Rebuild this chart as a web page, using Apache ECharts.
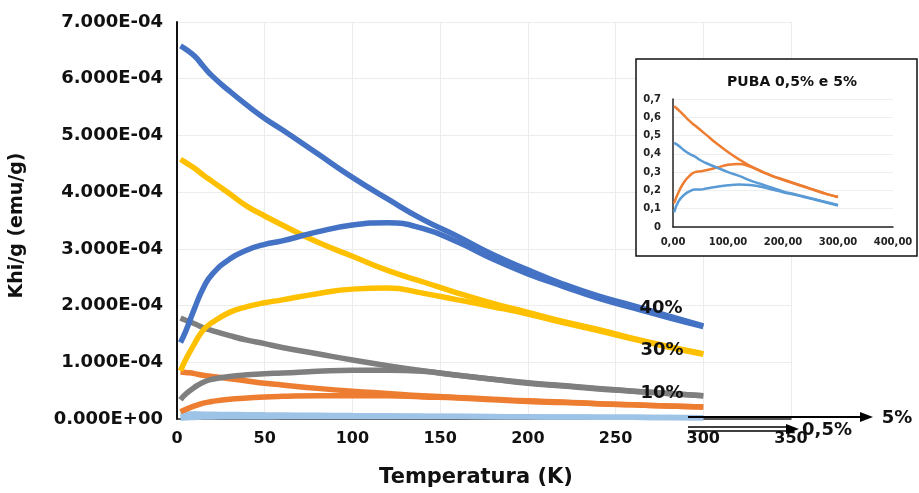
<!DOCTYPE html>
<html>
<head>
<meta charset="utf-8">
<script src="https://cdn.jsdelivr.net/npm/echarts@6/dist/echarts.min.js"></script>
<style>
html, body { margin: 0; padding: 0; background: #fff; }
#main { width: 919px; height: 493px; }
</style>
</head>
<body>
<div id="main"></div>
<script>
// temperatures (K)
var temps = [2, 5, 10, 15, 20, 30, 40, 50, 60, 80, 100, 120, 140, 160, 180, 200, 220, 240, 260, 280, 300];

// Khi/g in units of 1e-4 emu/g ; fc = field cooled (upper), zfc = zero field cooled (lower)
var fc40  = [6.58, 6.52, 6.40, 6.22, 6.05, 5.78, 5.53, 5.30, 5.10, 4.68, 4.26, 3.88, 3.52, 3.22, 2.90, 2.63, 2.38, 2.17, 2.00, 1.82, 1.64];
var zfc40 = [1.35, 1.55, 1.95, 2.31, 2.55, 2.82, 2.98, 3.08, 3.14, 3.30, 3.42, 3.46, 3.36, 3.12, 2.82, 2.56, 2.34, 2.13, 1.96, 1.79, 1.63];
var fc30  = [4.58, 4.52, 4.42, 4.30, 4.19, 3.97, 3.75, 3.58, 3.42, 3.12, 2.87, 2.62, 2.42, 2.22, 2.04, 1.88, 1.72, 1.58, 1.42, 1.28, 1.15];
var zfc30 = [0.85, 1.05, 1.33, 1.57, 1.70, 1.88, 1.98, 2.05, 2.10, 2.21, 2.29, 2.31, 2.22, 2.10, 1.98, 1.85, 1.70, 1.56, 1.41, 1.27, 1.14];
var fc10  = [1.78, 1.74, 1.68, 1.61, 1.56, 1.47, 1.39, 1.33, 1.26, 1.15, 1.04, 0.94, 0.85, 0.77, 0.70, 0.64, 0.59, 0.54, 0.49, 0.45, 0.41];
var zfc10 = [0.34, 0.44, 0.56, 0.65, 0.70, 0.75, 0.78, 0.80, 0.81, 0.84, 0.86, 0.86, 0.84, 0.77, 0.70, 0.63, 0.58, 0.53, 0.49, 0.45, 0.41];
var fc5   = [0.83, 0.82, 0.80, 0.77, 0.75, 0.71, 0.67, 0.63, 0.60, 0.54, 0.49, 0.45, 0.41, 0.38, 0.35, 0.32, 0.30, 0.27, 0.25, 0.23, 0.21];
var zfc5  = [0.13, 0.17, 0.23, 0.28, 0.31, 0.35, 0.37, 0.39, 0.40, 0.41, 0.41, 0.41, 0.39, 0.37, 0.34, 0.31, 0.29, 0.27, 0.25, 0.23, 0.21];
var fc05  = [0.092, 0.090, 0.088, 0.085, 0.083, 0.080, 0.077, 0.073, 0.070, 0.065, 0.060, 0.056, 0.051, 0.047, 0.043, 0.039, 0.036, 0.033, 0.030, 0.027, 0.024];
var zfc05 = [0.016, 0.022, 0.028, 0.034, 0.036, 0.039, 0.041, 0.041, 0.042, 0.044, 0.046, 0.046, 0.046, 0.044, 0.041, 0.038, 0.035, 0.032, 0.029, 0.026, 0.023];

// inset "PUBA 0,5% e 5%"
var insetTemps = [2, 10, 20, 30, 40, 50, 60, 80, 100, 120, 140, 160, 180, 200, 220, 240, 260, 280, 300];
var inFc5   = [0.66, 0.64, 0.61, 0.58, 0.555, 0.53, 0.505, 0.455, 0.41, 0.37, 0.335, 0.305, 0.28, 0.26, 0.24, 0.22, 0.20, 0.18, 0.165];
var inZfc5  = [0.13, 0.19, 0.245, 0.28, 0.30, 0.305, 0.31, 0.325, 0.34, 0.345, 0.33, 0.305, 0.28, 0.258, 0.238, 0.218, 0.198, 0.18, 0.163];
var inFc05  = [0.46, 0.445, 0.42, 0.40, 0.385, 0.365, 0.35, 0.325, 0.30, 0.28, 0.255, 0.235, 0.215, 0.195, 0.18, 0.165, 0.15, 0.135, 0.12];
var inZfc05 = [0.08, 0.14, 0.175, 0.195, 0.205, 0.205, 0.21, 0.22, 0.228, 0.232, 0.23, 0.22, 0.205, 0.19, 0.177, 0.163, 0.148, 0.133, 0.118];

var FONT = 'DejaVu Sans';

function sci(v) {
    v = v * 1e-4;
    if (v === 0) return '0.000E+00';
    var p = v.toExponential(3).split('e');
    var e = +p[1];
    return p[0] + 'E' + (e < 0 ? '-' : '+') + (Math.abs(e) < 10 ? '0' : '') + Math.abs(e);
}

function pairs(xs, ys) {
    return xs.map(function (t, i) { return [t, ys[i]]; });
}

function mainLine(vals, color) {
    return {
        type: 'line', smooth: true, showSymbol: false,
        data: pairs(temps, vals),
        lineStyle: { color: color, width: 5.5 },
        itemStyle: { color: color },
        z: 2
    };
}

function insetLine(vals, color) {
    return {
        type: 'line', smooth: true, showSymbol: false,
        xAxisIndex: 1, yAxisIndex: 1,
        data: pairs(insetTemps, vals),
        lineStyle: { color: color, width: 2.5 },
        itemStyle: { color: color },
        z: 6
    };
}

var chart = echarts.init(document.getElementById('main'));

var txt = function (s, x, y, size) {
    return {
        type: 'text', x: x, y: y, z: 8,
        style: { text: s, fill: '#111', font: 'bold ' + size + 'px "DejaVu Sans"', align: 'center', verticalAlign: 'middle' }
    };
};

var option = {
    animation: false,
    backgroundColor: '#fff',
    grid: [
        { left: 177, top: 22, right: 128, bottom: 61 },
        { left: 673, top: 99, right: 26, bottom: 266 }
    ],
    xAxis: [{
        type: 'value', min: 0, max: 350, interval: 50,
        name: 'Temperatura (K)', nameLocation: 'middle', nameGap: 48,
        nameTextStyle: { fontFamily: FONT, fontWeight: 'bold', fontSize: 21, color: '#111', padding: [0, 16, 0, 0] },
        axisLine: { show: true, lineStyle: { color: '#222', width: 1.5 } },
        axisTick: { show: false },
        axisLabel: { fontFamily: FONT, fontWeight: 'bold', fontSize: 16, color: '#111', margin: 12 },
        splitLine: { show: true, lineStyle: { color: '#ececec', width: 1 } }
    }, {
        gridIndex: 1, type: 'value', min: 0, max: 400, interval: 100, z: 5,
        axisLine: { show: true, lineStyle: { color: '#222', width: 1.5 } },
        axisTick: { show: false },
        axisLabel: {
            fontFamily: FONT, fontWeight: 'bold', fontSize: 10, color: '#222', margin: 10,
            formatter: function (v) { return v.toFixed(2).replace('.', ','); }
        },
        splitLine: { show: false }
    }],
    yAxis: [{
        type: 'value', min: 0, max: 7, interval: 1,
        name: 'Khi/g (emu/g)', nameLocation: 'middle', nameGap: 150,
        nameTextStyle: { fontFamily: FONT, fontWeight: 'bold', fontSize: 19, color: '#111', padding: [0, 10, 0, 0] },
        axisLine: { show: true, lineStyle: { color: '#111', width: 2 } },
        axisTick: { show: false },
        axisLabel: { fontFamily: FONT, fontWeight: 'bold', fontSize: 18, color: '#111', margin: 14, formatter: sci },
        splitLine: { show: true, lineStyle: { color: '#ececec', width: 1 } }
    }, {
        gridIndex: 1, type: 'value', min: 0, max: 0.7, interval: 0.1, z: 5,
        axisLine: { show: true, lineStyle: { color: '#222', width: 1.5 } },
        axisTick: { show: false },
        axisLabel: {
            fontFamily: FONT, fontWeight: 'bold', fontSize: 10, color: '#222', margin: 12,
            formatter: function (v) { return v === 0 ? '0' : v.toFixed(1).replace('.', ','); }
        },
        splitLine: { show: true, lineStyle: { color: '#eeeeee', width: 1 } }
    }],
    series: [
        mainLine(zfc05, '#9dc3e6'),
        mainLine(fc05, '#9dc3e6'),
        mainLine(zfc5, '#ed7d31'),
        mainLine(fc5, '#ed7d31'),
        mainLine(zfc10, '#7f7f7f'),
        mainLine(fc10, '#7f7f7f'),
        mainLine(zfc30, '#ffc000'),
        mainLine(fc30, '#ffc000'),
        mainLine(zfc40, '#4472c4'),
        mainLine(fc40, '#4472c4'),
        insetLine(inFc5, '#ed7d31'),
        insetLine(inZfc5, '#ed7d31'),
        insetLine(inFc05, '#5b9bd5'),
        insetLine(inZfc05, '#5b9bd5')
    ],
    graphic: [
        { type: 'rect', z: 1, shape: { x: 636, y: 59, width: 281, height: 197 },
          style: { fill: '#fff', stroke: '#111', lineWidth: 1.5 } },
        txt('PUBA 0,5% e 5%', 792, 82, 14),
        txt('40%', 661, 308, 18),
        txt('30%', 662, 350, 18),
        txt('10%', 662, 393, 18),
        txt('5%', 897, 418, 18),
        txt('0,5%', 827, 430, 18),
        { type: 'line', z: 8, shape: { x1: 688, y1: 417, x2: 862, y2: 417 }, style: { stroke: '#000', lineWidth: 2 } },
        { type: 'polygon', z: 8, shape: { points: [[873, 417], [860, 412], [860, 422]] }, style: { fill: '#000' } },
        { type: 'line', z: 8, shape: { x1: 688, y1: 427, x2: 788, y2: 427 }, style: { stroke: '#000', lineWidth: 1.5 } },
        { type: 'line', z: 8, shape: { x1: 688, y1: 431, x2: 788, y2: 431 }, style: { stroke: '#000', lineWidth: 1.5 } },
        { type: 'polygon', z: 8, shape: { points: [[799, 429], [786, 424], [786, 434]] }, style: { fill: '#000' } }
    ]
};

chart.setOption(option);
</script>
</body>
</html>
